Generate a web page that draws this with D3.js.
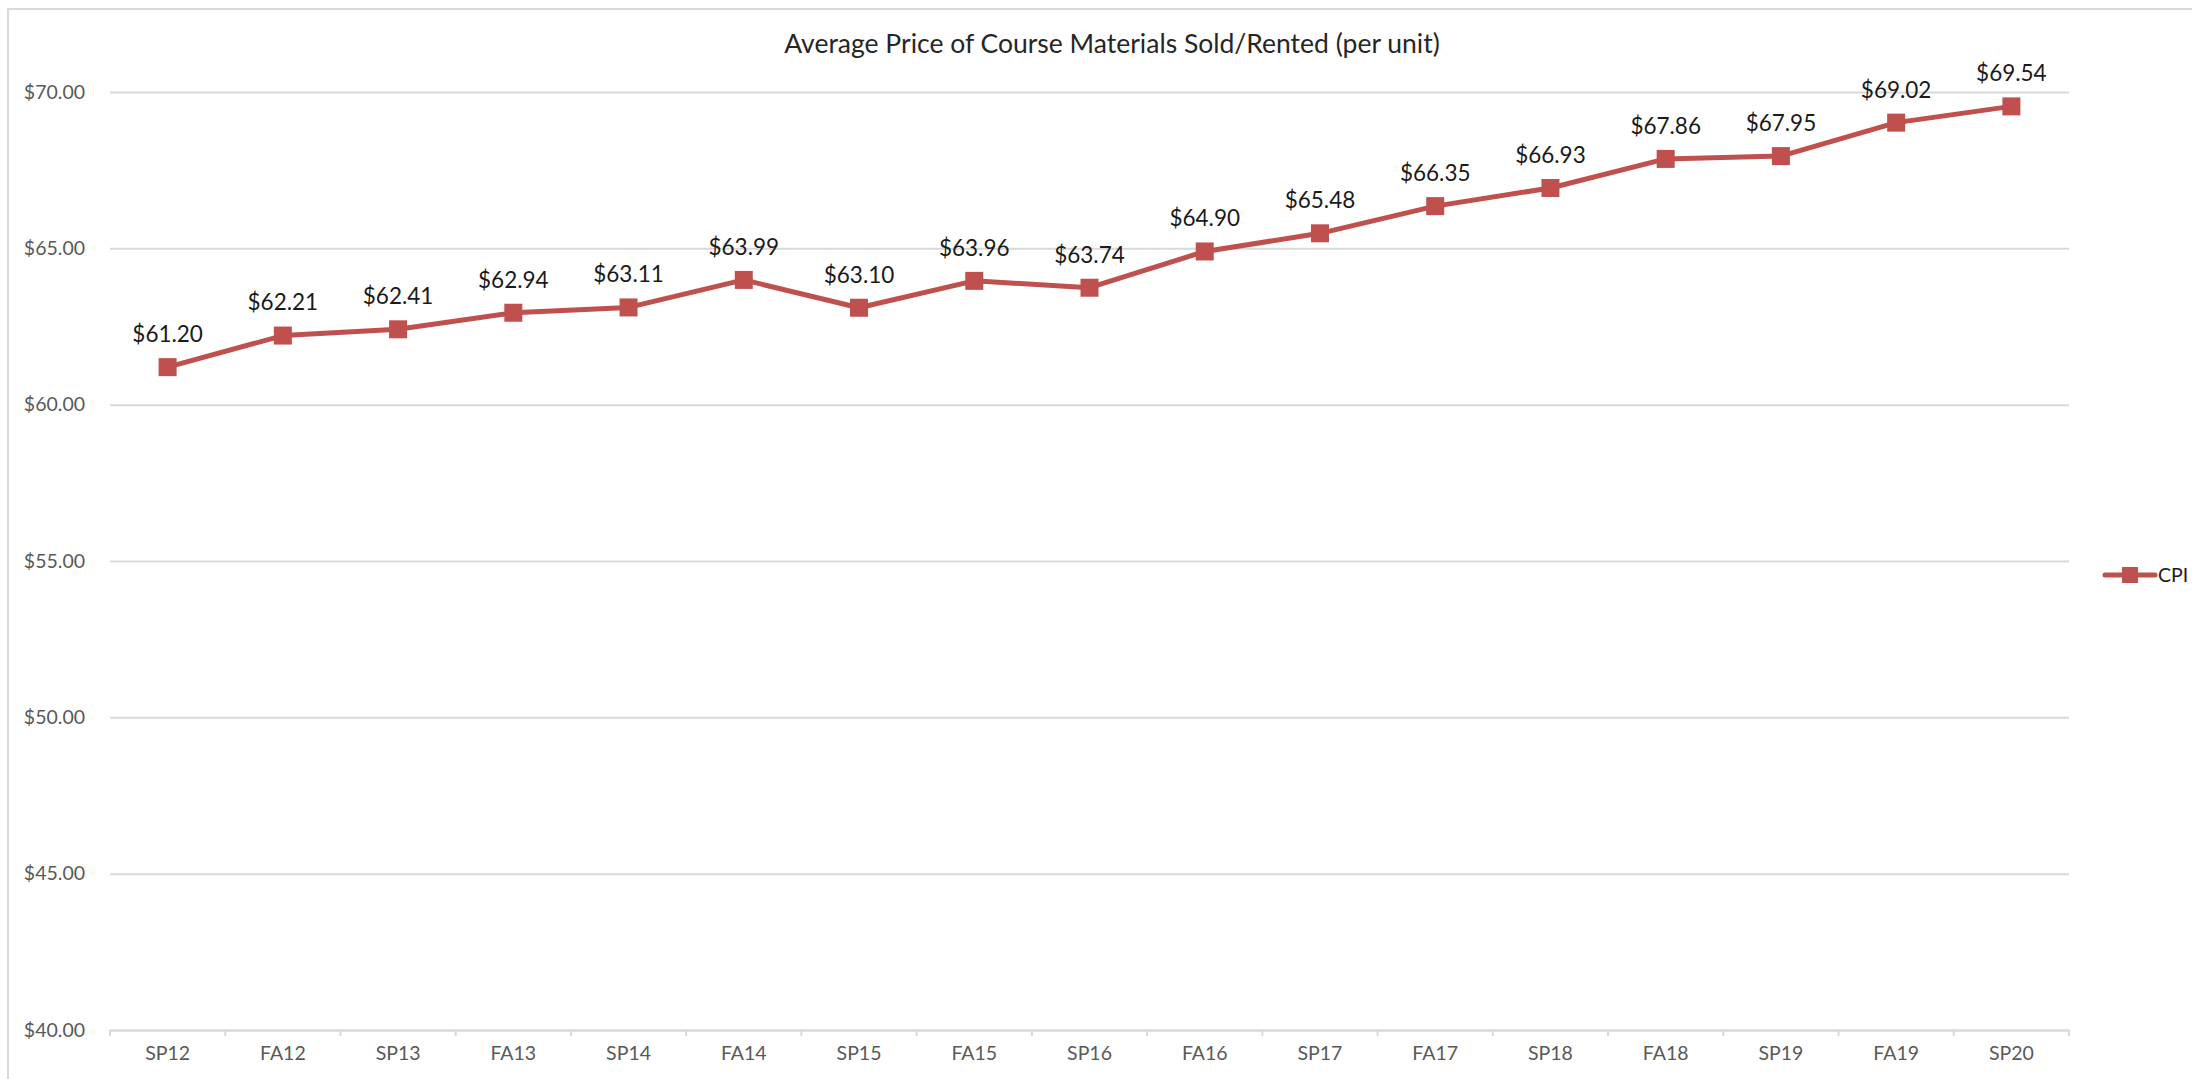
<!DOCTYPE html>
<html>
<head>
<meta charset="utf-8">
<script src="https://cdnjs.cloudflare.com/ajax/libs/d3/7.8.5/d3.min.js"></script>
<style>
    body { margin: 0; background: #fff; }
    svg { display: block; font-family: Lato, "Open Sans", sans-serif; }
</style>
</head>
<body>
<svg id="svg"></svg>
<script>
// Chart data
const terms = ["SP12", "FA12", "SP13", "FA13", "SP14", "FA14", "SP15", "FA15", "SP16",
    "FA16", "SP17", "FA17", "SP18", "FA18", "SP19", "FA19", "SP20"];
const prices = [61.20, 62.21, 62.41, 62.94, 63.11, 63.99, 63.10, 63.96, 63.74,
    64.90, 65.48, 66.35, 66.93, 67.86, 67.95, 69.02, 69.54];
const yTicks = [40, 45, 50, 55, 60, 65, 70];
const seriesName = "CPI";
const chartTitle = "Average Price of Course Materials Sold/Rented (per unit)";

// SVG Dimensions
const width = 2192, height = 1079;
const plot = { left: 110, right: 2069, top: 92, bottom: 1030 };
const red = "#c0504d";
const fmt = d3.format("$.2f");

const svg = d3.select("#svg").attr("width", width).attr("height", height);

// chart area frame
svg.append("rect")
    .attr("x", 8).attr("y", 9)
    .attr("width", width + 20).attr("height", height + 20)
    .attr("fill", "#fff")
    .attr("stroke", "#d9d9d9")
    .attr("stroke-width", 2);

const x = d3.scaleBand().domain(terms).range([plot.left, plot.right]).padding(0);
const y = d3.scaleLinear().domain([40, 70]).range([plot.bottom, plot.top]);

// y axis + gridlines
const yAxis = svg.append("g")
    .attr("transform", "translate(" + plot.left + ",0)")
    .call(d3.axisLeft(y).tickValues(yTicks).tickFormat(fmt)
        .tickSize(-(plot.right - plot.left)).tickPadding(25));
yAxis.attr("font-family", null).attr("font-size", null);
yAxis.select(".domain").remove();
yAxis.selectAll(".tick line").attr("stroke", "#d9d9d9").attr("stroke-width", 2);
yAxis.selectAll(".tick text")
    .attr("fill", "#595959")
    .style("font-size", "19.5px");

// x axis
const xAxis = svg.append("g")
    .attr("transform", "translate(0," + plot.bottom + ")")
    .call(d3.axisBottom(x).tickSize(0).tickPadding(16));
xAxis.attr("font-family", null).attr("font-size", null);
xAxis.select(".domain").attr("stroke", "#d9d9d9").attr("stroke-width", 2);
xAxis.selectAll(".tick text")
    .attr("fill", "#595959")
    .style("font-size", "19.5px");

// tick marks between categories
const boundaries = terms.map((t) => x(t)).concat([x.range()[1]]);
xAxis.selectAll(".sep")
    .data(boundaries)
    .enter()
    .append("line")
    .attr("class", "sep")
    .attr("x1", (d) => d).attr("x2", (d) => d)
    .attr("y1", 0).attr("y2", 6)
    .attr("stroke", "#d9d9d9")
    .attr("stroke-width", 2);

// title
svg.append("text")
    .attr("x", 1112)
    .attr("y", 53)
    .attr("text-anchor", "middle")
    .attr("fill", "#262626")
    .style("font-size", "26.5px")
    .text(chartTitle);

// line
const cx = (d, i) => x(terms[i]) + x.bandwidth() / 2;
const line = d3.line().x(cx).y((d) => y(d));

svg.append("path")
    .datum(prices)
    .attr("d", line)
    .attr("fill", "none")
    .attr("stroke", red)
    .attr("stroke-width", 5)
    .attr("stroke-linejoin", "round");

const ms = 18;
svg.selectAll(".marker")
    .data(prices)
    .enter()
    .append("rect")
    .attr("class", "marker")
    .attr("x", (d, i) => cx(d, i) - ms / 2)
    .attr("y", (d) => y(d) - ms / 2)
    .attr("width", ms).attr("height", ms)
    .attr("fill", red);

// data labels
svg.selectAll(".label")
    .data(prices)
    .enter()
    .append("text")
    .attr("class", "label")
    .attr("x", cx)
    .attr("y", (d) => y(d) - 33)
    .attr("dy", "0.35em")
    .attr("text-anchor", "middle")
    .attr("fill", "#1a1a1a")
    .style("font-size", "22.5px")
    .text((d) => fmt(d));

// legend
const legend = svg.append("g").attr("transform", "translate(2105,575)");
legend.append("line")
    .attr("x1", 0).attr("x2", 50)
    .attr("stroke", red).attr("stroke-width", 5).attr("stroke-linecap", "round");
legend.append("rect")
    .attr("x", 17).attr("y", -8).attr("width", 16).attr("height", 16)
    .attr("fill", red);
legend.append("text")
    .attr("x", 53).attr("dy", "0.35em")
    .attr("fill", "#1a1a1a")
    .style("font-size", "19.5px")
    .text(seriesName);
</script>
</body>
</html>
